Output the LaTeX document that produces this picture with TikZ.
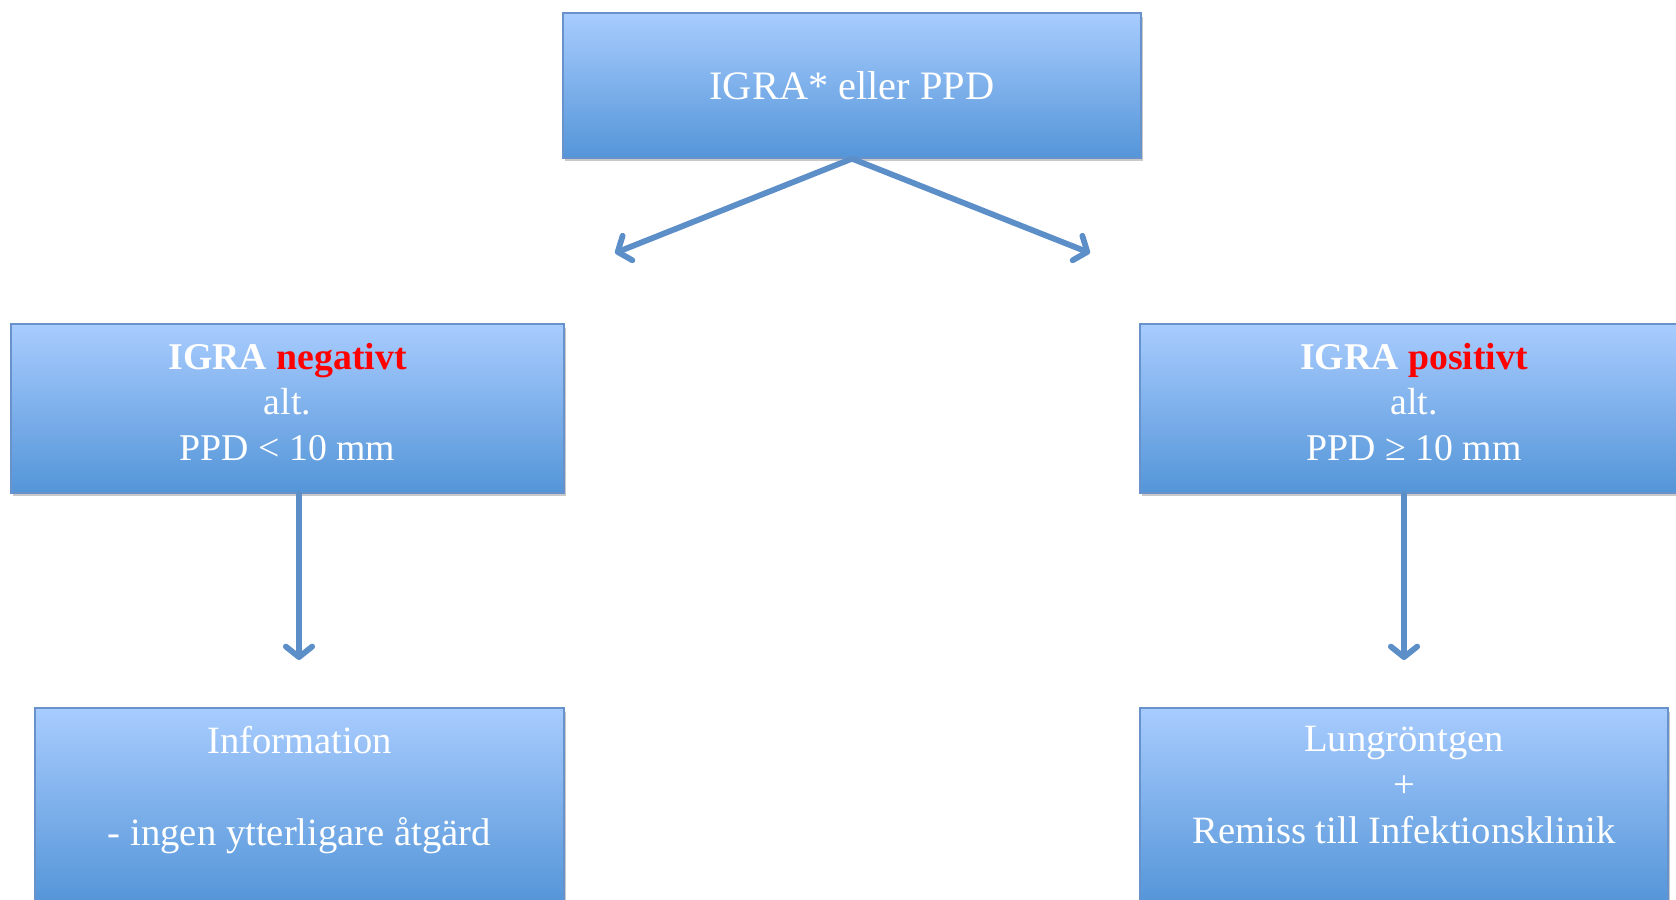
\documentclass[tikz,border=0pt]{standalone}
\usepackage{fontspec}
\setmainfont{Liberation Serif}
\usepackage{tikz}
\usetikzlibrary{arrows.meta}
\usetikzlibrary{positioning}
\usetikzlibrary{shadows}
\definecolor{boxtop}{RGB}{168, 204, 254}
\definecolor{boxbot}{RGB}{84, 149, 216}
\definecolor{boxline}{RGB}{104, 146, 204}
\definecolor{arrblue}{RGB}{92, 142, 200}
\definecolor{hired}{RGB}{255, 0, 0}
\tikzset{stepbox/.style = {rectangle, draw = boxline, line width = 0.8pt,
    top color = boxtop, bottom color = boxbot,
    drop shadow = {shadow xshift = 0.4mm, shadow yshift = -0.7mm, opacity = 0.3, fill = black!70},
    text = white, align = center, inner sep = 0}}
\tikzset{boxtext/.style = {text = white, align = center, font = \fontsize{21.5}{26}\selectfont}}
\tikzset{flow/.style = {draw = arrblue, line width = 3.3pt, line cap = round,
    -{Straight Barb[length = 6pt, width = 15pt, line cap = round, line join = round]}}}

\begin{document}
\begin{tikzpicture}[x = 0.02cm, y = -0.02cm]
    \useasboundingbox (0, 0) rectangle (1676, 899);
    \clip (0, 0) rectangle (1676, 899);

    \node [stepbox, minimum width = 11.56cm, minimum height = 2.9cm,
      font = \fontsize{23}{28}\selectfont] (test) at (852, 85.5) {IGRA* eller PPD};

    \node [stepbox, minimum width = 11.06cm, minimum height = 3.38cm] (neg) at (287.5, 408.5) {};
    \node [boxtext] (negtxt) at (287.5, 402) {\textbf{IGRA \textcolor{hired}{negativt}}\\alt.\\PPD < 10 mm};

    \node [stepbox, minimum width = 10.96cm, minimum height = 3.38cm] (pos) at (1414, 408.5) {};
    \node [boxtext] (postxt) at (1414, 402) {\textbf{IGRA \textcolor{hired}{positivt}}\\alt.\\PPD ≥ 10 mm};

    \node [stepbox, minimum width = 10.58cm, minimum height = 3.9cm] (info) at (299.5, 805.5) {};
    \node [boxtext, font = \fontsize{22}{26}\selectfont, below = 0.26cm of info.north] (infotxt)
      {Information\\[26pt]- ingen ytterligare åtgärd};

    \node [stepbox, minimum width = 10.56cm, minimum height = 3.9cm] (ref) at (1404, 805.5) {};
    \node [boxtext, font = \fontsize{22}{26}\selectfont, below = 0.26cm of ref.north] (reftxt)
      {Lungröntgen\\+\\Remiss till Infektionsklinik};

    \coordinate (negend) at (615, 253);
    \coordinate (posend) at (1090, 253);
    \coordinate (infoend) at (299, 660);
    \coordinate (refend) at (1404, 660);

    \draw [flow] (test.south) -- (negend);
    \draw [flow] (test.south) -- (posend);
    \draw [flow] (neg.south -| infoend) -- (infoend);
    \draw [flow] (pos.south -| refend) -- (refend);
  \end{tikzpicture}
\end{document}
